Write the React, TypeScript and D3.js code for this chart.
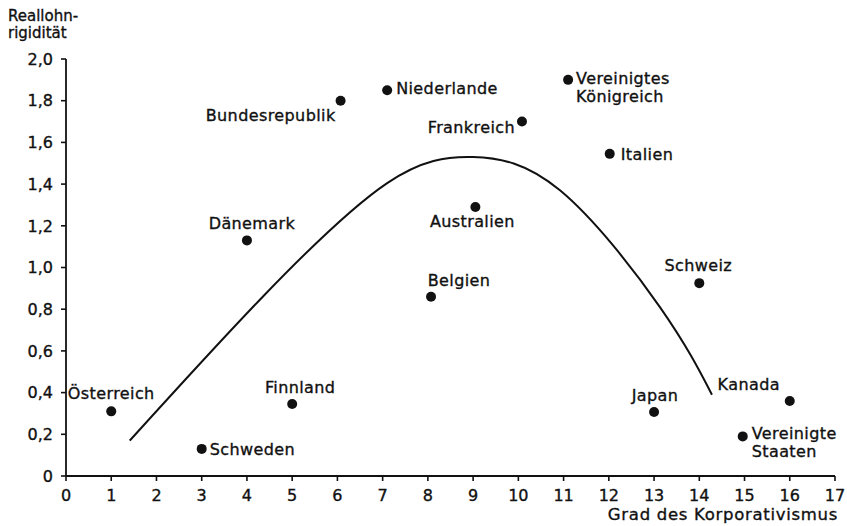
import React from "react";
import * as d3 from "d3";

const countries = [
  "Österreich", "Schweden", "Dänemark", "Finnland", "Bundesrepublik", "Niederlande",
  "Belgien", "Australien", "Frankreich", "Vereinigtes\nKönigreich", "Italien",
  "Japan", "Schweiz", "Vereinigte\nStaaten", "Kanada",
];
const corporatism = [1, 3, 4, 5, 6.07, 7.1, 8.07, 9.05, 10.08, 11.1, 12.02, 13.0, 14.0, 14.96, 16.0];
const rigidity = [0.31, 0.13, 1.13, 0.345, 1.8, 1.85, 0.86, 1.29, 1.7, 1.9, 1.545, 0.307, 0.925, 0.19, 0.36];

const curveX = [1.41, 4.35, 7.1, 9.0, 10.92, 13.13, 14.28];
const curveY = [0.17, 0.86, 1.405, 1.53, 1.37, 0.81, 0.39];

const xTicks = d3.range(0, 18);
const yTicks = [0, 0.2, 0.4, 0.6, 0.8, 1.0, 1.2, 1.4, 1.6, 1.8, 2.0];

// label placement: [dx, dy, anchor]
const labelPlacement: [number, number, string][] = [
  [0, -12, "middle"],
  [8, 6, "start"],
  [5, -11, "middle"],
  [8, -11, "middle"],
  [-5, 20, "end"],
  [9, 4, "start"],
  [28, -11, "middle"],
  [-3, 20, "middle"],
  [-7, 11, "end"],
  [8, 4, "start"],
  [11, 6, "start"],
  [1, -11, "middle"],
  [-1, -12, "middle"],
  [9, 3, "start"],
  [-41, -11, "middle"],
];

const FONT = "'DejaVu Sans', sans-serif";

export default function App() {
  const x = d3.scaleLinear().domain([0, 17]).range([66, 835]);
  const y = d3.scaleLinear().domain([0, 2]).range([476, 59]);
  const pts = curveX.map((v, i) => [v, curveY[i]] as [number, number]);
  const line = d3
    .line<[number, number]>()
    .x((d) => x(d[0]))
    .y((d) => y(d[1]))
    .curve(d3.curveNatural);

  const textStyle = { stroke: "#111", strokeWidth: 0.35 };

  return (
    <svg
      width={847}
      height={526}
      style={{ position: "absolute", left: 0, top: 0, background: "#fff" }}
      fontFamily={FONT}
    >
      {/* y axis */}
      <line x1={x(0)} x2={x(0)} y1={y(0)} y2={y(2)} stroke="#111" strokeWidth={1.8} />
      {yTicks.map((t) => (
        <g key={"y" + t}>
          <line x1={x(0) - 5} x2={x(0)} y1={y(t)} y2={y(t)} stroke="#111" strokeWidth={1.6} />
          <text x={x(0) - 13} y={y(t)} dy="0.36em" textAnchor="end" fontSize={16} fill="#111" style={textStyle}>
            {t === 0 ? "0" : t.toFixed(1).replace(".", ",")}
          </text>
        </g>
      ))}
      {/* x axis */}
      <line x1={x(0)} x2={x(17)} y1={y(0)} y2={y(0)} stroke="#111" strokeWidth={1.8} />
      {xTicks.map((t) => (
        <g key={"x" + t}>
          <line x1={x(t)} x2={x(t)} y1={y(0)} y2={y(0) + 5} stroke="#111" strokeWidth={1.6} />
          <text x={x(t)} y={501} textAnchor="middle" fontSize={16} fill="#111" style={textStyle}>
            {t}
          </text>
        </g>
      ))}
      <text x={838} y={520} textAnchor="end" fontSize={16.5} letterSpacing={0.7} fill="#111" style={textStyle}>
        Grad des Korporativismus
      </text>
      <text x={8} y={21} fontSize={15} fill="#111" style={textStyle}>
        Reallohn-
      </text>
      <text x={8} y={38} fontSize={15} fill="#111" style={textStyle}>
        rigidität
      </text>

      {/* fitted curve */}
      <path d={line(pts) || ""} fill="none" stroke="#111" strokeWidth={2} />

      {/* points */}
      {countries.map((c, i) => {
        const cx = x(corporatism[i]);
        const cy = y(rigidity[i]);
        const [dx, dy, anchor] = labelPlacement[i];
        const lines = c.split("\n");
        return (
          <g key={c}>
            <circle cx={cx} cy={cy} r={5} fill="#111" />
            <text
              x={cx + dx}
              y={cy + dy}
              textAnchor={anchor}
              fontSize={16}
              letterSpacing={0.4}
              fill="#111"
              style={textStyle}
            >
              {lines.map((l, j) => (
                <tspan key={j} x={cx + dx} dy={j === 0 ? 0 : 18}>
                  {l}
                </tspan>
              ))}
            </text>
          </g>
        );
      })}
    </svg>
  );
}
